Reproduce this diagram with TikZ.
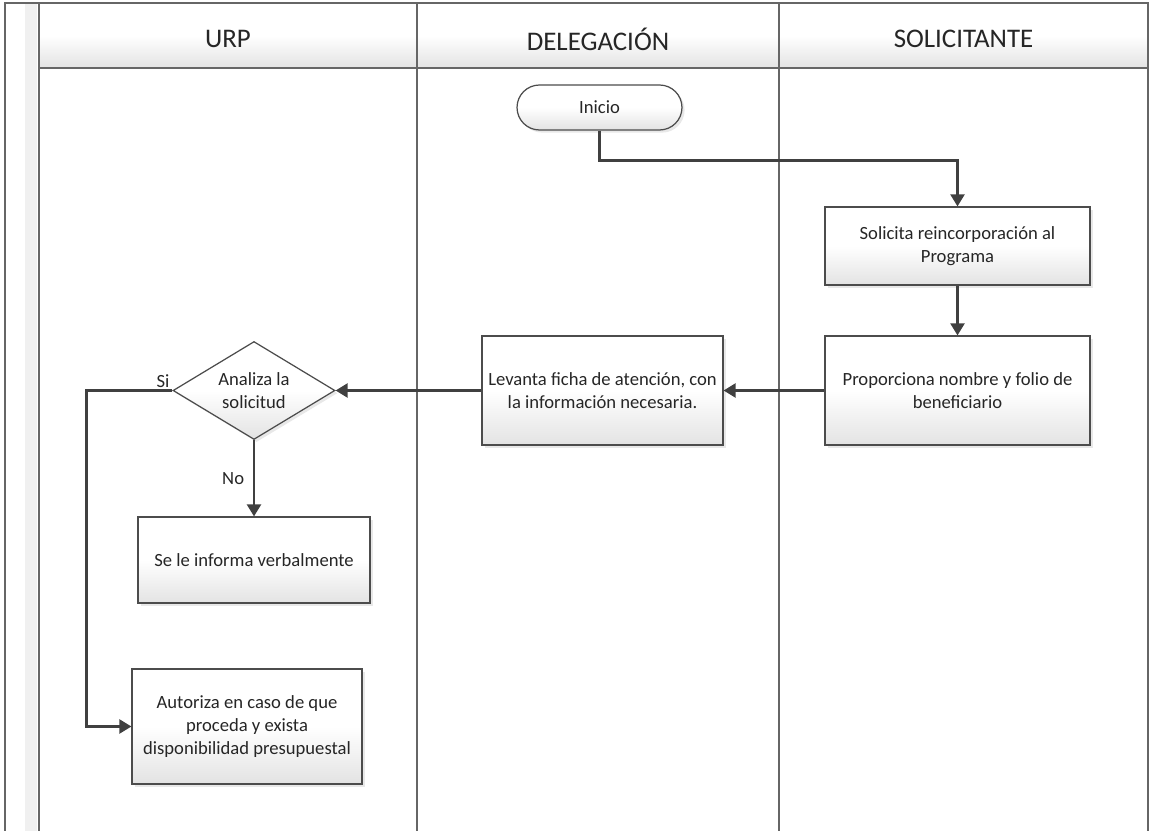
\documentclass[tikz,border=0pt]{standalone}
\usepackage{fontspec}
\setmainfont{Carlito}
\usetikzlibrary{arrows.meta, shapes.geometric, shadows, positioning}

\tikzset{
  lane/.style={draw=black!60, line width=0.8pt},
  head/.style={font=\fontsize{15.3}{18}\selectfont, text=black!85},
  boxfill/.style={top color=white, bottom color=black!11, middle color=white,
    drop shadow={shadow xshift=1.5pt, shadow yshift=-1.5pt, opacity=0.18}},
  proc/.style={boxfill, draw=black!70, line width=0.7pt, align=center, inner sep=0pt,
    font=\fontsize{10.6}{13}\selectfont, text=black!85},
  start/.style={proc, rounded corners=0.45cm, minimum width=3.3cm, minimum height=0.9cm},
  decision/.style={proc, diamond, aspect=1.65, minimum width=3.24cm, minimum height=1.96cm},
  flow/.style={draw=black!75, line width=1.3pt, -{Triangle[length=0.24cm, width=0.28cm]}},
  lbl/.style={font=\fontsize{10.6}{13}\selectfont, text=black!85, inner sep=1pt}
}

\begin{document}
\begin{tikzpicture}[x=0.02cm, y=-0.02cm]
	\useasboundingbox (0,0) rectangle (1150,831);
	\def\ytop{3};
	\def\yhead{68};
	\def\ybot{831};
	
	\fill [black!6] (25,\ytop) rectangle (37,\ybot);
	
	\foreach \xa/\xb/\name in {39/417/URP, 417/779/DELEGACIÓN, 779/1148/SOLICITANTE}{
		\shade [top color=white, bottom color=black!11, middle color=white] (\xa,\ytop) rectangle (\xb,\yhead);
		\node [head] at ({(\xa+\xb)/2},39) {\name};
	}
	
	\draw [lane] (5,\ybot) -- (5,\ytop) -- (1148,\ytop) -- (1148,\ybot);
	\draw [lane] (39,\yhead) -- (1148,\yhead);
	\foreach \xl in {39, 417, 779}
		\draw [lane] (\xl,\ytop) -- (\xl,\ybot);
	
	\node [start] (inicio) at (599.5,107.5) {Inicio};
	\node [proc, minimum width=5.3cm, minimum height=1.56cm] (solicita) at (957.5,246) {Solicita reincorporación al\\Programa};
	\node [proc, minimum width=5.3cm, minimum height=2.18cm] (proporciona) at (957.5,390.5) {Proporciona nombre y folio de\\beneficiario};
	\node [proc, minimum width=4.82cm, minimum height=2.18cm] (levanta) at (602.5,390.5) {Levanta ficha de atención, con\\la información necesaria.};
	\node [decision] (analiza) at (254,390.5) {Analiza la\\solicitud};
	\node [proc, minimum width=4.64cm, minimum height=1.72cm] (informa) at (254,560) {Se le informa verbalmente};
	\node [proc, minimum width=4.6cm, minimum height=2.3cm] (autoriza) at (247,726.5) {Autoriza en caso de que\\proceda y exista\\disponibilidad presupuestal};
	
	\draw [flow] (inicio.south) -- ++(0,30) -| (solicita.north);
	\draw [flow] (solicita) -- (proporciona);
	\draw [flow] (proporciona) -- (levanta);
	\draw [flow] (levanta) -- (analiza);
	\draw [flow] (analiza) -- node [lbl, left=4pt] {No} (informa);
	\draw [flow] (analiza.west) node [lbl, anchor=south east] {Si} -- ++(-86,0) |- (autoriza);
\end{tikzpicture}
\end{document}
